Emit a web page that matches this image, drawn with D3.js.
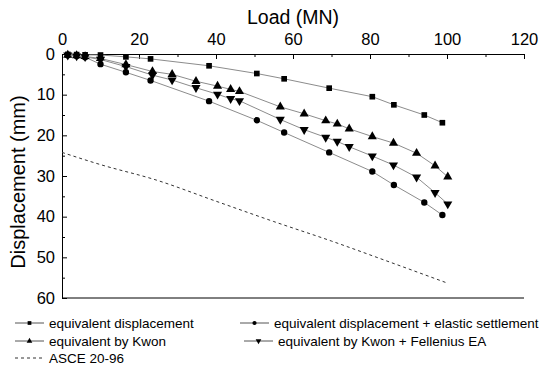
<!DOCTYPE html>
<html>
<head>
<meta charset="utf-8">
<script src="https://cdnjs.cloudflare.com/ajax/libs/d3/7.8.5/d3.min.js"></script>
<style>
    body { margin: 0; background: #fff; }
    text { font-family: "Liberation Sans", Arial, sans-serif; fill: #000; }
    .axis path, .axis line { stroke: #000; }
    .series-line { fill: none; stroke: #8c8c8c; stroke-width: 1; }
</style>
</head>
<body>
<div id="chart-area"></div>
<script>

// data
var loadsEqv = [1.5, 3.8, 6, 10, 16.6, 23, 38.2, 50.6, 57.7, 69.4, 80.6, 86.2, 94.1, 98.8];
var dispEqv = [0.1, 0.15, 0.2, 0.25, 0.7, 1.2, 2.9, 4.8, 6.1, 8.4, 10.5, 12.5, 15.0, 16.9];
var dispEqvElastic = [0.3, 0.5, 0.8, 2.5, 4.5, 6.5, 11.6, 16.3, 19.3, 24.2, 28.9, 32.2, 36.5, 39.6];

var loadsKwon = [1.5, 3.8, 6, 10, 16.6, 23.5, 28.6, 34.8, 40.4, 43.8, 46.1, 56.7, 62.9, 68.5, 71.5, 74.6, 80.6, 86.1, 92.1, 96.9, 100.2];
var dispKwon = [0.25, 0.4, 0.6, 1.1, 2.6, 4.3, 5.0, 6.7, 7.9, 8.7, 9.2, 13.0, 14.7, 16.4, 17.2, 18.4, 20.3, 21.9, 24.4, 27.5, 30.2];
var dispKwonFellenius = [0.3, 0.5, 0.7, 1.35, 3.1, 5.2, 6.4, 8.3, 9.9, 11.0, 11.5, 16.1, 18.6, 20.5, 21.5, 22.8, 25.1, 27.3, 30.3, 34.1, 36.9];

var loadsAsce = [0, 10, 24.5, 40, 55, 70, 83.5, 100];
var dispAsce = [24.2, 27.2, 31.0, 36.2, 41.2, 46.0, 50.6, 56.3];

var xTicks = [0, 20, 40, 60, 80, 100, 120];
var yTicks = [0, 10, 20, 30, 40, 50, 60];

var legendNames = ["equivalent displacement", "equivalent displacement + elastic settlement",
    "equivalent by Kwon", "equivalent by Kwon + Fellenius EA", "ASCE 20-96"];

var margin = {top: 54, right: 26, bottom: 74, left: 62};
var width = 550 - margin.left - margin.right,
    height = 372 - margin.top - margin.bottom;

var svg = d3.select("#chart-area").append("svg")
    .attr("width", 550)
    .attr("height", 372);

var g = svg.append("g")
    .attr("transform", "translate(" + margin.left + "," + margin.top + ")");

var xScale = d3.scaleLinear().domain([0, 120]).range([0, width]);
var yScale = d3.scaleLinear().domain([0, 60]).range([0, height]);

// minor ticks
var xMinor = d3.range(10, 120, 20);
var yMinor = d3.range(5, 60, 10);

g.append("g").attr("class", "axis")
    .call(d3.axisTop(xScale).tickValues(xMinor).tickSize(-3).tickFormat(""))
    .select(".domain").remove();
g.append("g").attr("class", "axis")
    .call(d3.axisLeft(yScale).tickValues(yMinor).tickSize(-3).tickFormat(""))
    .select(".domain").remove();

var xAxis = g.append("g").attr("class", "axis")
    .call(d3.axisTop(xScale).tickValues(xTicks).tickSizeInner(-5).tickSizeOuter(0).tickPadding(9));
xAxis.selectAll("text").style("font-size", "16.5px");

var yAxis = g.append("g").attr("class", "axis")
    .call(d3.axisLeft(yScale).tickValues(yTicks).tickSizeInner(-5).tickSizeOuter(0).tickPadding(7));
yAxis.selectAll("text").style("font-size", "16.5px");

// bottom line
g.append("line")
    .attr("x1", 0).attr("x2", width)
    .attr("y1", height).attr("y2", height)
    .attr("stroke", "#000");

svg.append("text")
    .attr("x", margin.left + width / 2)
    .attr("y", 24)
    .attr("text-anchor", "middle")
    .style("font-size", "19.5px")
    .text("Load (MN)");

svg.append("text")
    .attr("transform", "translate(25," + (margin.top + height / 2 + 6) + ") rotate(-90)")
    .attr("text-anchor", "middle")
    .style("font-size", "20px")
    .text("Displacement (mm)");

var lineGenerator = d3.line()
    .x(d => xScale(d[0]))
    .y(d => yScale(d[1]));

function zip(a, b) {
    return a.map((v, i) => [v, b[i]]);
}

var series = [
    {pts: zip(loadsEqv, dispEqv), symbol: d3.symbolSquare, size: 32},
    {pts: zip(loadsEqv, dispEqvElastic), symbol: d3.symbolCircle, size: 32},
    {pts: zip(loadsKwon, dispKwon), symbol: d3.symbolTriangle, size: 36, rot: 0},
    {pts: zip(loadsKwon, dispKwonFellenius), symbol: d3.symbolTriangle, size: 36, rot: 180}
];

series.forEach(function(s) {
    g.append("path")
        .datum(s.pts)
        .attr("class", "series-line")
        .attr("d", lineGenerator);

    g.append("g").selectAll("path")
        .data(s.pts)
        .enter()
        .append("path")
        .attr("d", d3.symbol().type(s.symbol).size(s.size))
        .attr("transform", d => "translate(" + xScale(d[0]) + "," + yScale(d[1]) + ")" + (s.rot ? " rotate(" + s.rot + ")" : ""))
        .attr("fill", "#000");
});

g.append("path")
    .datum(zip(loadsAsce, dispAsce))
    .attr("fill", "none")
    .attr("stroke", "#333")
    .attr("stroke-width", 1)
    .attr("stroke-dasharray", "3,3")
    .attr("d", lineGenerator.curve(d3.curveMonotoneX));

// legend
var legendItems = [
    {x: 15, y: 323, name: legendNames[0], symbol: d3.symbolSquare},
    {x: 240, y: 323, name: legendNames[1], symbol: d3.symbolCircle},
    {x: 15, y: 341, name: legendNames[2], symbol: d3.symbolTriangle},
    {x: 244, y: 341, name: legendNames[3], symbol: d3.symbolTriangle, rot: 180},
    {x: 15, y: 358, name: legendNames[4], dashed: true}
];

var legend = svg.append("g").selectAll("g")
    .data(legendItems)
    .enter()
    .append("g")
    .attr("transform", d => "translate(" + d.x + "," + d.y + ")");

legend.append("line")
    .attr("x1", 0).attr("x2", 29)
    .attr("stroke", d => d.dashed ? "#333" : "#555")
    .attr("stroke-dasharray", d => d.dashed ? "3,3" : null);

legend.filter(d => !d.dashed).append("path")
    .attr("d", d => d3.symbol().type(d.symbol).size(14)())
    .attr("transform", d => "translate(14.5,0)" + (d.rot ? " rotate(" + d.rot + ")" : ""))
    .attr("fill", "#000");

legend.append("text")
    .attr("x", 34)
    .attr("dy", "0.35em")
    .style("font-size", "13.5px")
    .text(d => d.name);

</script>
</body>
</html>
